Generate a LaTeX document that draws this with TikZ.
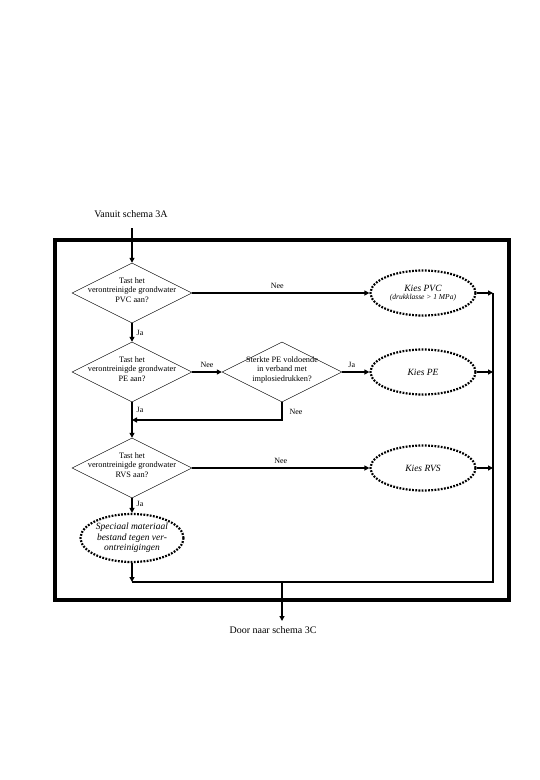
\documentclass[tikz,border=0pt]{standalone}
\usepackage{fontspec}
\setmainfont{Liberation Serif}
\usetikzlibrary{shapes.geometric,arrows.meta}
\newcommand{\dtext}[1]{\smash{\begin{tabular}{@{}c@{}}#1\end{tabular}}}
\begin{document}
\begin{tikzpicture}[x=1pt,y=-1pt,
  dec/.style={draw, shape=diamond, aspect=2, minimum width=120pt, minimum height=60pt,
    inner sep=0pt, line width=0.4pt, font=\fontsize{8.3}{9.2}\selectfont},
  choice/.style={draw, ellipse, minimum width=105pt, minimum height=45pt, inner sep=0pt,
    line width=2.2pt, dash pattern=on 1.8pt off 1.4pt, align=center,
    font=\fontsize{9.5}{10}\selectfont\itshape},
  conn/.style={line width=1.3pt},
  arr/.style={conn, -{Triangle[length=5pt,width=5pt]}},
  lbl/.style={font=\fontsize{8}{9}\selectfont, inner sep=1pt},
  txt/.style={font=\fontsize{10}{11}\selectfont, inner sep=1pt}]
\useasboundingbox (0,0) rectangle (540,780);

% frame
\draw[line width=4pt] (55,240) rectangle (509,600);

% nodes
\node[txt] (src) at (131,214) {Vanuit schema 3A};
\coordinate (srcend) at (132,228);
\node[dec] (d1) at (132,293) {\dtext{Tast het\\verontreinigde grondwater\\PVC aan?}};
\node[dec] (d2) at (132,372) {\dtext{Tast het\\verontreinigde grondwater\\PE aan?}};
\node[dec] (d3) at (282,372) {\dtext{Sterkte PE voldoende\\in verband met\\implosiedrukken?}};
\node[dec] (d4) at (132,468) {\dtext{Tast het\\verontreinigde grondwater\\RVS aan?}};

\node[choice] (pvc) at (423,293) {Kies PVC\\[-2pt]{\fontsize{7.5}{8}\selectfont (drukklasse > 1 MPa)}};
\node[choice] (pe) at (423,372) {Kies PE};
\node[choice] (rvs) at (423,468) {Kies RVS};
\node[choice, minimum width=103pt, minimum height=48pt, font=\fontsize{9.5}{10.5}\selectfont\itshape] (sp) at (132,538) {Speciaal materiaal\\bestand tegen ver-\\ontreinigingen};

\coordinate (r1) at (493,293);
\coordinate (r2) at (493,372);
\coordinate (r3) at (493,468);
\coordinate (rb) at (493,582);
\coordinate (lb) at (132,582);
\coordinate (mb) at (282,582);
\coordinate (j1) at (282,420);
\coordinate (j2) at (132,420);
\coordinate (out) at (282,621);
\node[txt] (dst) at (273,630) {Door naar schema 3C};

% connectors
\draw[arr] (srcend) -- (d1.north);
\draw[arr] (d1.east) -- (pvc.west) node[lbl, pos=0.48, above=3pt] {Nee};
\draw[arr] (d1.south) -- (d2.north) node[lbl, pos=0.5, right=3pt] {Ja};
\draw[arr] (d2.east) -- (d3.west) node[lbl, midway, above=3pt] {Nee};
\draw[arr] (d3.east) -- (pe.west) node[lbl, pos=0.35, above=3pt] {Ja};
\draw[arr] (d3.south) -- (j1) node[lbl, pos=0.55, right=6pt] {Nee} -- (j2);
\draw[arr] (d2.south) -- (d4.north) node[lbl, pos=0.22, right=3pt] {Ja};
\draw[arr] (d4.east) -- (rvs.west) node[lbl, pos=0.5, above=3pt] {Nee};
\draw[arr] (d4.south) -- (sp.north) node[lbl, pos=0.4, right=3pt] {Ja};
\draw[arr] (pvc.east) -- (r1);
\draw[arr] (pe.east) -- (r2);
\draw[arr] (rvs.east) -- (r3);
\draw[arr] (sp.south) -- (lb);
\draw[conn] (r1) -- (rb) -- (lb);
\draw[arr] (mb) -- (out);
\end{tikzpicture}
\end{document}
